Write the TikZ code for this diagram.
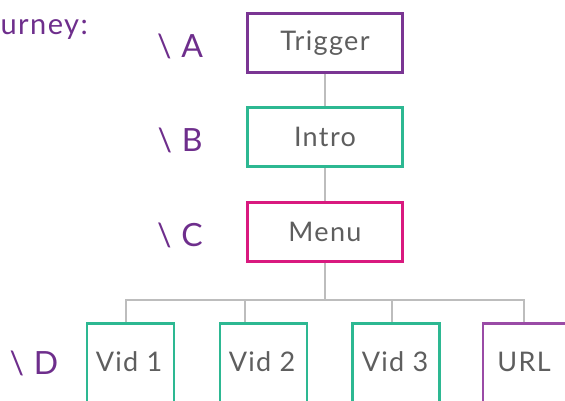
\documentclass[tikz,border=0pt]{standalone}
\usepackage{fontspec}
\setmainfont{Lato}[LetterSpace=5]
\definecolor{txtgray}{HTML}{5E5E5E}
\definecolor{lblpurple}{HTML}{6E2E8C}
\definecolor{purp}{HTML}{7A3593}
\definecolor{urlpurp}{HTML}{9A4BA6}
\definecolor{teal}{HTML}{2DB892}
\definecolor{magenta}{HTML}{D9197F}
\definecolor{linegray}{HTML}{BDBDBD}
\begin{document}
\begin{tikzpicture}[x=1pt,y=-1pt,
  stepbox/.style={draw, line width=2.8pt, minimum width=155pt, minimum height=59pt,
    inner sep=0pt, text=txtgray, font=\fontsize{27}{29}\selectfont},
  leafbox/.style={draw, line width=2.8pt, minimum width=87pt, minimum height=90pt,
    inner sep=0pt, anchor=north west},
  leaftext/.style={text=txtgray, font=\fontsize{27}{29}\selectfont},
  lvl/.style={text=lblpurple, font=\fontsize{32}{34}\selectfont},
  link/.style={draw=linegray, line width=2.8pt}]
\useasboundingbox (0,0) rectangle (565,401);
\begin{scope}
\clip (0,0) rectangle (565,401);
% heading
\node[lvl, anchor=west, font=\fontsize{29}{31}\selectfont] (head) at (-3,30) {urney:};
% level labels
\node[lvl] (la) at (180,46) {\textbackslash\ A};
\node[lvl] (lb) at (180,140) {\textbackslash\ B};
\node[lvl] (lc) at (180,235) {\textbackslash\ C};
\node[lvl] (ld) at (34,363) {\textbackslash\ D};
% main steps
\node[stepbox, draw=purp] (trig) at (325,43) {Trigger};
\node[stepbox, draw=teal] (intro) at (325,137) {Intro};
\node[stepbox, draw=magenta] (menu) at (325,232) {Menu};
% branch points
\coordinate (bar) at (325,300);
\coordinate (b1) at (126,300);
\coordinate (b2) at (245,300);
\coordinate (b3) at (392,300);
\coordinate (b4) at (524,300);
% leaves
\node[leafbox, draw=teal] (v1) at (85.5,322) {};
\node[leafbox, draw=teal] (v2) at (218.5,322) {};
\node[leafbox, draw=teal] (v3) at (351,322) {};
\node[leafbox, draw=urlpurp] (url) at (481.5,322) {};
\node[leaftext] (t1) at (129,362) {Vid 1};
\node[leaftext] (t2) at (262,362) {Vid 2};
\node[leaftext] (t3) at (395,362) {Vid 3};
\node[leaftext] (t4) at (524,362) {URL};
% connectors
\path[link] (trig.south) -- (intro.north);
\path[link] (intro.south) -- (menu.north);
\path[link] (menu.south) -- (bar);
\path[link] (b1 |- v1.north) -- (b1) -- (b4) -- (b4 |- url.north);
\path[link] (b2) -- (b2 |- v2.north);
\path[link] (b3) -- (b3 |- v3.north);
\end{scope}
\end{tikzpicture}
\end{document}
